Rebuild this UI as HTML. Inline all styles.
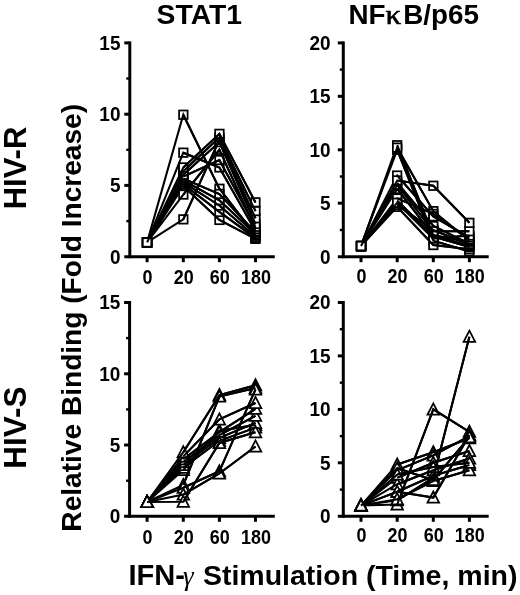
<!DOCTYPE html>
<html><head><meta charset="utf-8"><title>Figure</title>
<style>
html,body{margin:0;padding:0;background:#fff}
svg{display:block;filter:blur(0.45px)}
text{font-family:"Liberation Sans",sans-serif;font-weight:bold;fill:#000}
.tk text{font-size:19.5px}
.ti{font-size:28.3px}
.sym{font-family:"Liberation Serif",serif;font-weight:normal}
</style></head><body>
<svg width="520" height="595" viewBox="0 0 520 595">
<rect width="520" height="595" fill="#fff"/>
<g fill="#fff" stroke="#000" stroke-width="1.75" stroke-linejoin="miter">
<rect x="142.8" y="238.2" width="8.5" height="8.5"/>
<rect x="179.1" y="181.9" width="8.5" height="8.5"/>
<rect x="215.2" y="215.7" width="8.5" height="8.5"/>
<rect x="251.2" y="234.6" width="8.5" height="8.5"/>
<polyline fill="none" stroke-width="2.05" points="147.1,242.4 183.3,186.1 219.4,219.9 255.5,238.9"/>
<rect x="142.8" y="238.2" width="8.5" height="8.5"/>
<rect x="179.1" y="180.0" width="8.5" height="8.5"/>
<rect x="215.2" y="207.7" width="8.5" height="8.5"/>
<rect x="251.2" y="233.9" width="8.5" height="8.5"/>
<polyline fill="none" stroke-width="2.05" points="147.1,242.4 183.3,184.3 219.4,211.9 255.5,238.2"/>
<rect x="142.8" y="238.2" width="8.5" height="8.5"/>
<rect x="179.1" y="178.2" width="8.5" height="8.5"/>
<rect x="215.2" y="201.3" width="8.5" height="8.5"/>
<rect x="251.2" y="232.5" width="8.5" height="8.5"/>
<polyline fill="none" stroke-width="2.05" points="147.1,242.4 183.3,182.4 219.4,205.5 255.5,236.7"/>
<rect x="142.8" y="238.2" width="8.5" height="8.5"/>
<rect x="179.1" y="110.5" width="8.5" height="8.5"/>
<rect x="215.2" y="184.5" width="8.5" height="8.5"/>
<rect x="251.2" y="231.1" width="8.5" height="8.5"/>
<polyline fill="none" stroke-width="2.05" points="147.1,242.4 183.3,114.7 219.4,188.7 255.5,235.3"/>
<rect x="142.8" y="238.2" width="8.5" height="8.5"/>
<rect x="179.1" y="176.2" width="8.5" height="8.5"/>
<rect x="215.2" y="196.0" width="8.5" height="8.5"/>
<rect x="251.2" y="229.6" width="8.5" height="8.5"/>
<polyline fill="none" stroke-width="2.05" points="147.1,242.4 183.3,180.4 219.4,200.3 255.5,233.9"/>
<rect x="142.8" y="238.2" width="8.5" height="8.5"/>
<rect x="179.1" y="174.3" width="8.5" height="8.5"/>
<rect x="215.2" y="189.7" width="8.5" height="8.5"/>
<rect x="251.2" y="228.2" width="8.5" height="8.5"/>
<polyline fill="none" stroke-width="2.05" points="147.1,242.4 183.3,178.6 219.4,194.0 255.5,232.5"/>
<rect x="142.8" y="238.2" width="8.5" height="8.5"/>
<rect x="179.1" y="148.4" width="8.5" height="8.5"/>
<rect x="215.2" y="163.2" width="8.5" height="8.5"/>
<rect x="251.2" y="226.8" width="8.5" height="8.5"/>
<polyline fill="none" stroke-width="2.05" points="147.1,242.4 183.3,152.7 219.4,167.5 255.5,231.0"/>
<rect x="142.8" y="238.2" width="8.5" height="8.5"/>
<rect x="179.1" y="190.3" width="8.5" height="8.5"/>
<rect x="215.2" y="145.5" width="8.5" height="8.5"/>
<rect x="251.2" y="224.7" width="8.5" height="8.5"/>
<polyline fill="none" stroke-width="2.05" points="147.1,242.4 183.3,194.6 219.4,149.8 255.5,228.9"/>
<rect x="142.8" y="238.2" width="8.5" height="8.5"/>
<rect x="179.1" y="172.3" width="8.5" height="8.5"/>
<rect x="215.2" y="155.8" width="8.5" height="8.5"/>
<rect x="251.2" y="222.5" width="8.5" height="8.5"/>
<polyline fill="none" stroke-width="2.05" points="147.1,242.4 183.3,176.6 219.4,160.1 255.5,226.8"/>
<rect x="142.8" y="238.2" width="8.5" height="8.5"/>
<rect x="179.1" y="170.5" width="8.5" height="8.5"/>
<rect x="215.2" y="137.9" width="8.5" height="8.5"/>
<rect x="251.2" y="219.7" width="8.5" height="8.5"/>
<polyline fill="none" stroke-width="2.05" points="147.1,242.4 183.3,174.7 219.4,142.1 255.5,223.9"/>
<rect x="142.8" y="238.2" width="8.5" height="8.5"/>
<rect x="179.1" y="215.1" width="8.5" height="8.5"/>
<rect x="215.2" y="135.6" width="8.5" height="8.5"/>
<rect x="251.2" y="214.0" width="8.5" height="8.5"/>
<polyline fill="none" stroke-width="2.05" points="147.1,242.4 183.3,219.4 219.4,139.8 255.5,218.2"/>
<rect x="142.8" y="238.2" width="8.5" height="8.5"/>
<rect x="179.1" y="166.9" width="8.5" height="8.5"/>
<rect x="215.2" y="133.3" width="8.5" height="8.5"/>
<rect x="251.2" y="206.8" width="8.5" height="8.5"/>
<polyline fill="none" stroke-width="2.05" points="147.1,242.4 183.3,171.2 219.4,137.5 255.5,211.1"/>
<rect x="142.8" y="238.2" width="8.5" height="8.5"/>
<rect x="179.1" y="163.2" width="8.5" height="8.5"/>
<rect x="215.2" y="129.6" width="8.5" height="8.5"/>
<rect x="251.2" y="198.1" width="8.5" height="8.5"/>
<polyline fill="none" stroke-width="2.05" points="147.1,242.4 183.3,167.5 219.4,133.8 255.5,202.4"/>
<polyline fill="none" stroke-width="2.05" points="183.3,186.1 219.4,219.9 255.5,238.9"/>
<polyline fill="none" stroke-width="2.05" points="183.3,184.3 219.4,211.9 255.5,238.2"/>
<polyline fill="none" stroke-width="2.05" points="183.3,182.4 219.4,205.5 255.5,236.7"/>
<polyline fill="none" stroke-width="2.05" points="183.3,114.7 219.4,188.7 255.5,235.3"/>
<polyline fill="none" stroke-width="2.05" points="183.3,180.4 219.4,200.3 255.5,233.9"/>
<polyline fill="none" stroke-width="2.05" points="183.3,178.6 219.4,194.0 255.5,232.5"/>
<polyline fill="none" stroke-width="2.05" points="183.3,152.7 219.4,167.5 255.5,231.0"/>
<polyline fill="none" stroke-width="2.05" points="183.3,194.6 219.4,149.8 255.5,228.9"/>
<polyline fill="none" stroke-width="2.05" points="183.3,176.6 219.4,160.1 255.5,226.8"/>
<polyline fill="none" stroke-width="2.05" points="183.3,174.7 219.4,142.1 255.5,223.9"/>
<polyline fill="none" stroke-width="2.05" points="183.3,219.4 219.4,139.8 255.5,218.2"/>
<polyline fill="none" stroke-width="2.05" points="183.3,171.2 219.4,137.5 255.5,211.1"/>
<polyline fill="none" stroke-width="2.05" points="183.3,167.5 219.4,133.8 255.5,202.4"/>
</g>
<g stroke="#000" stroke-width="3" fill="none">
<path d="M129.8 41.39999999999998V258.2"/>
<path d="M124.30000000000001 256.7H274.8"/>
<path d="M124.30000000000001 185.4H129.8"/>
<path d="M124.30000000000001 114.2H129.8"/>
<path d="M124.30000000000001 42.9H129.8"/>
<path d="M126.30000000000001 221.1H129.8" stroke-width="2.4"/>
<path d="M126.30000000000001 149.8H129.8" stroke-width="2.4"/>
<path d="M126.30000000000001 78.5H129.8" stroke-width="2.4"/>
<path d="M147.1 256.7V262.2"/>
<path d="M183.3 256.7V262.2"/>
<path d="M219.4 256.7V262.2"/>
<path d="M255.5 256.7V262.2"/>
</g>
<g class="tk">
<text transform="translate(120.5,263.5) scale(0.95,1)" text-anchor="end" style="font-size:20px">0</text>
<text transform="translate(120.5,192.2) scale(0.95,1)" text-anchor="end" style="font-size:20px">5</text>
<text transform="translate(120.5,121.0) scale(0.95,1)" text-anchor="end" style="font-size:20px">10</text>
<text transform="translate(120.5,49.7) scale(0.95,1)" text-anchor="end" style="font-size:20px">15</text>
<text transform="translate(147.5,284.0) scale(0.93,1)" text-anchor="middle" style="font-size:19.3px">0</text>
<text transform="translate(183.7,284.0) scale(0.93,1)" text-anchor="middle" style="font-size:19.3px">20</text>
<text transform="translate(219.8,284.0) scale(0.93,1)" text-anchor="middle" style="font-size:19.3px">60</text>
<text transform="translate(255.9,284.0) scale(0.93,1)" text-anchor="middle" style="font-size:19.3px">180</text>
</g>
<g fill="#fff" stroke="#000" stroke-width="1.75" stroke-linejoin="miter">
<rect x="356.8" y="241.8" width="8.5" height="8.5"/>
<rect x="392.9" y="145.5" width="8.5" height="8.5"/>
<rect x="429.1" y="236.4" width="8.5" height="8.5"/>
<rect x="465.1" y="247.1" width="8.5" height="8.5"/>
<polyline fill="none" stroke-width="2.05" points="361.0,246.0 397.2,149.8 433.3,240.7 469.4,251.4"/>
<rect x="356.8" y="241.8" width="8.5" height="8.5"/>
<rect x="392.9" y="202.6" width="8.5" height="8.5"/>
<rect x="429.1" y="240.8" width="8.5" height="8.5"/>
<rect x="465.1" y="245.0" width="8.5" height="8.5"/>
<polyline fill="none" stroke-width="2.05" points="361.0,246.0 397.2,206.9 433.3,245.0 469.4,249.2"/>
<rect x="356.8" y="241.8" width="8.5" height="8.5"/>
<rect x="392.9" y="196.3" width="8.5" height="8.5"/>
<rect x="429.1" y="232.2" width="8.5" height="8.5"/>
<rect x="465.1" y="242.8" width="8.5" height="8.5"/>
<polyline fill="none" stroke-width="2.05" points="361.0,246.0 397.2,200.6 433.3,236.5 469.4,247.1"/>
<rect x="356.8" y="241.8" width="8.5" height="8.5"/>
<rect x="392.9" y="141.0" width="8.5" height="8.5"/>
<rect x="429.1" y="231.1" width="8.5" height="8.5"/>
<rect x="465.1" y="241.8" width="8.5" height="8.5"/>
<polyline fill="none" stroke-width="2.05" points="361.0,246.0 397.2,145.2 433.3,235.3 469.4,246.0"/>
<rect x="356.8" y="241.8" width="8.5" height="8.5"/>
<rect x="392.9" y="200.6" width="8.5" height="8.5"/>
<rect x="429.1" y="225.7" width="8.5" height="8.5"/>
<rect x="465.1" y="240.7" width="8.5" height="8.5"/>
<polyline fill="none" stroke-width="2.05" points="361.0,246.0 397.2,204.9 433.3,230.0 469.4,244.9"/>
<rect x="356.8" y="241.8" width="8.5" height="8.5"/>
<rect x="392.9" y="178.7" width="8.5" height="8.5"/>
<rect x="429.1" y="221.8" width="8.5" height="8.5"/>
<rect x="465.1" y="239.6" width="8.5" height="8.5"/>
<polyline fill="none" stroke-width="2.05" points="361.0,246.0 397.2,182.9 433.3,226.0 469.4,243.9"/>
<rect x="356.8" y="241.8" width="8.5" height="8.5"/>
<rect x="392.9" y="184.7" width="8.5" height="8.5"/>
<rect x="429.1" y="231.1" width="8.5" height="8.5"/>
<rect x="465.1" y="237.5" width="8.5" height="8.5"/>
<polyline fill="none" stroke-width="2.05" points="361.0,246.0 397.2,188.9 433.3,235.3 469.4,241.7"/>
<rect x="356.8" y="241.8" width="8.5" height="8.5"/>
<rect x="392.9" y="143.4" width="8.5" height="8.5"/>
<rect x="429.1" y="206.9" width="8.5" height="8.5"/>
<rect x="465.1" y="236.4" width="8.5" height="8.5"/>
<polyline fill="none" stroke-width="2.05" points="361.0,246.0 397.2,147.7 433.3,211.2 469.4,240.7"/>
<rect x="356.8" y="241.8" width="8.5" height="8.5"/>
<rect x="392.9" y="194.2" width="8.5" height="8.5"/>
<rect x="429.1" y="209.7" width="8.5" height="8.5"/>
<rect x="465.1" y="235.3" width="8.5" height="8.5"/>
<polyline fill="none" stroke-width="2.05" points="361.0,246.0 397.2,198.4 433.3,213.9 469.4,239.6"/>
<rect x="356.8" y="241.8" width="8.5" height="8.5"/>
<rect x="392.9" y="171.3" width="8.5" height="8.5"/>
<rect x="429.1" y="212.1" width="8.5" height="8.5"/>
<rect x="465.1" y="233.2" width="8.5" height="8.5"/>
<polyline fill="none" stroke-width="2.05" points="361.0,246.0 397.2,175.6 433.3,216.4 469.4,237.5"/>
<rect x="356.8" y="241.8" width="8.5" height="8.5"/>
<rect x="392.9" y="198.5" width="8.5" height="8.5"/>
<rect x="429.1" y="234.3" width="8.5" height="8.5"/>
<rect x="465.1" y="231.3" width="8.5" height="8.5"/>
<polyline fill="none" stroke-width="2.05" points="361.0,246.0 397.2,202.7 433.3,238.5 469.4,235.5"/>
<rect x="356.8" y="241.8" width="8.5" height="8.5"/>
<rect x="392.9" y="180.5" width="8.5" height="8.5"/>
<rect x="429.1" y="227.0" width="8.5" height="8.5"/>
<rect x="465.1" y="227.0" width="8.5" height="8.5"/>
<polyline fill="none" stroke-width="2.05" points="361.0,246.0 397.2,184.8 433.3,231.3 469.4,231.3"/>
<rect x="356.8" y="241.8" width="8.5" height="8.5"/>
<rect x="392.9" y="176.2" width="8.5" height="8.5"/>
<rect x="429.1" y="181.5" width="8.5" height="8.5"/>
<rect x="465.1" y="218.6" width="8.5" height="8.5"/>
<polyline fill="none" stroke-width="2.05" points="361.0,246.0 397.2,180.5 433.3,185.7 469.4,222.8"/>
<polyline fill="none" stroke-width="2.05" points="397.2,149.8 433.3,240.7 469.4,251.4"/>
<polyline fill="none" stroke-width="2.05" points="397.2,206.9 433.3,245.0 469.4,249.2"/>
<polyline fill="none" stroke-width="2.05" points="397.2,200.6 433.3,236.5 469.4,247.1"/>
<polyline fill="none" stroke-width="2.05" points="397.2,145.2 433.3,235.3 469.4,246.0"/>
<polyline fill="none" stroke-width="2.05" points="397.2,204.9 433.3,230.0 469.4,244.9"/>
<polyline fill="none" stroke-width="2.05" points="397.2,182.9 433.3,226.0 469.4,243.9"/>
<polyline fill="none" stroke-width="2.05" points="397.2,188.9 433.3,235.3 469.4,241.7"/>
<polyline fill="none" stroke-width="2.05" points="397.2,147.7 433.3,211.2 469.4,240.7"/>
<polyline fill="none" stroke-width="2.05" points="397.2,198.4 433.3,213.9 469.4,239.6"/>
<polyline fill="none" stroke-width="2.05" points="397.2,175.6 433.3,216.4 469.4,237.5"/>
<polyline fill="none" stroke-width="2.05" points="397.2,202.7 433.3,238.5 469.4,235.5"/>
<polyline fill="none" stroke-width="2.05" points="397.2,184.8 433.3,231.3 469.4,231.3"/>
<polyline fill="none" stroke-width="2.05" points="397.2,180.5 433.3,185.7 469.4,222.8"/>
</g>
<g stroke="#000" stroke-width="3" fill="none">
<path d="M343.3 41.39999999999998V258.2"/>
<path d="M337.8 256.7H488.7"/>
<path d="M337.8 203.2H343.3"/>
<path d="M337.8 149.8H343.3"/>
<path d="M337.8 96.3H343.3"/>
<path d="M337.8 42.9H343.3"/>
<path d="M339.8 230.0H343.3" stroke-width="2.4"/>
<path d="M339.8 176.5H343.3" stroke-width="2.4"/>
<path d="M339.8 123.1H343.3" stroke-width="2.4"/>
<path d="M339.8 69.6H343.3" stroke-width="2.4"/>
<path d="M361.0 256.7V262.2"/>
<path d="M397.2 256.7V262.2"/>
<path d="M433.3 256.7V262.2"/>
<path d="M469.4 256.7V262.2"/>
</g>
<g class="tk">
<text transform="translate(330.7,263.5) scale(0.95,1)" text-anchor="end" style="font-size:20px">0</text>
<text transform="translate(330.7,210.1) scale(0.95,1)" text-anchor="end" style="font-size:20px">5</text>
<text transform="translate(330.7,156.6) scale(0.95,1)" text-anchor="end" style="font-size:20px">10</text>
<text transform="translate(330.7,103.1) scale(0.95,1)" text-anchor="end" style="font-size:20px">15</text>
<text transform="translate(330.7,49.7) scale(0.95,1)" text-anchor="end" style="font-size:20px">20</text>
<text transform="translate(361.4,282.7) scale(0.93,1)" text-anchor="middle" style="font-size:19.3px">0</text>
<text transform="translate(397.6,282.7) scale(0.93,1)" text-anchor="middle" style="font-size:19.3px">20</text>
<text transform="translate(433.7,282.7) scale(0.93,1)" text-anchor="middle" style="font-size:19.3px">60</text>
<text transform="translate(469.8,282.7) scale(0.93,1)" text-anchor="middle" style="font-size:19.3px">180</text>
</g>
<g fill="#fff" stroke="#000" stroke-width="1.75" stroke-linejoin="miter">
<path d="M147.1 495.9L152.9 507.1L141.3 507.1Z"/>
<path d="M183.3 463.9L189.1 475.1L177.5 475.1Z"/>
<path d="M219.4 424.7L225.2 435.9L213.6 435.9Z"/>
<path d="M255.5 419.0L261.3 430.2L249.7 430.2Z"/>
<polyline fill="none" stroke-width="2.05" points="147.1,502.0 183.3,470.0 219.4,430.8 255.5,425.1"/>
<path d="M147.1 495.9L152.9 507.1L141.3 507.1Z"/>
<path d="M183.3 461.7L189.1 472.9L177.5 472.9Z"/>
<path d="M219.4 434.7L225.2 445.9L213.6 445.9Z"/>
<path d="M255.5 421.5L261.3 432.7L249.7 432.7Z"/>
<polyline fill="none" stroke-width="2.05" points="147.1,502.0 183.3,467.8 219.4,440.8 255.5,427.6"/>
<path d="M147.1 495.9L152.9 507.1L141.3 507.1Z"/>
<path d="M183.3 458.9L189.1 470.1L177.5 470.1Z"/>
<path d="M219.4 431.8L225.2 443.0L213.6 443.0Z"/>
<path d="M255.5 416.8L261.3 428.0L249.7 428.0Z"/>
<polyline fill="none" stroke-width="2.05" points="147.1,502.0 183.3,465.0 219.4,437.9 255.5,422.9"/>
<path d="M147.1 495.9L152.9 507.1L141.3 507.1Z"/>
<path d="M183.3 456.0L189.1 467.2L177.5 467.2Z"/>
<path d="M219.4 429.0L225.2 440.2L213.6 440.2Z"/>
<path d="M255.5 409.7L261.3 420.9L249.7 420.9Z"/>
<polyline fill="none" stroke-width="2.05" points="147.1,502.0 183.3,462.1 219.4,435.1 255.5,415.8"/>
<path d="M147.1 495.9L152.9 507.1L141.3 507.1Z"/>
<path d="M183.3 453.2L189.1 464.4L177.5 464.4Z"/>
<path d="M219.4 426.1L225.2 437.3L213.6 437.3Z"/>
<path d="M255.5 402.7L261.3 413.9L249.7 413.9Z"/>
<polyline fill="none" stroke-width="2.05" points="147.1,502.0 183.3,459.3 219.4,432.2 255.5,408.8"/>
<path d="M147.1 495.9L152.9 507.1L141.3 507.1Z"/>
<path d="M183.3 450.3L189.1 461.5L177.5 461.5Z"/>
<path d="M219.4 413.3L225.2 424.5L213.6 424.5Z"/>
<path d="M255.5 396.9L261.3 408.1L249.7 408.1Z"/>
<polyline fill="none" stroke-width="2.05" points="147.1,502.0 183.3,456.4 219.4,419.4 255.5,403.0"/>
<path d="M147.1 495.9L152.9 507.1L141.3 507.1Z"/>
<path d="M183.3 446.1L189.1 457.3L177.5 457.3Z"/>
<path d="M219.4 389.0L225.2 400.2L213.6 400.2Z"/>
<path d="M255.5 379.2L261.3 390.4L249.7 390.4Z"/>
<polyline fill="none" stroke-width="2.05" points="147.1,502.0 183.3,452.2 219.4,395.1 255.5,385.3"/>
<path d="M147.1 495.9L152.9 507.1L141.3 507.1Z"/>
<path d="M183.3 478.8L189.1 490.0L177.5 490.0Z"/>
<path d="M219.4 390.5L225.2 401.7L213.6 401.7Z"/>
<path d="M255.5 381.9L261.3 393.1L249.7 393.1Z"/>
<polyline fill="none" stroke-width="2.05" points="147.1,502.0 183.3,484.9 219.4,396.6 255.5,388.0"/>
<path d="M147.1 495.9L152.9 507.1L141.3 507.1Z"/>
<path d="M183.3 481.7L189.1 492.9L177.5 492.9Z"/>
<path d="M219.4 465.2L225.2 476.4L213.6 476.4Z"/>
<path d="M255.5 383.3L261.3 394.5L249.7 394.5Z"/>
<polyline fill="none" stroke-width="2.05" points="147.1,502.0 183.3,487.8 219.4,471.3 255.5,389.4"/>
<path d="M147.1 495.9L152.9 507.1L141.3 507.1Z"/>
<path d="M183.3 488.5L189.1 499.7L177.5 499.7Z"/>
<path d="M219.4 467.4L225.2 478.6L213.6 478.6Z"/>
<path d="M255.5 440.4L261.3 451.6L249.7 451.6Z"/>
<polyline fill="none" stroke-width="2.05" points="147.1,502.0 183.3,494.6 219.4,473.5 255.5,446.5"/>
<path d="M147.1 495.9L152.9 507.1L141.3 507.1Z"/>
<path d="M183.3 495.7L189.1 506.9L177.5 506.9Z"/>
<path d="M219.4 436.8L225.2 448.0L213.6 448.0Z"/>
<path d="M255.5 426.2L261.3 437.4L249.7 437.4Z"/>
<polyline fill="none" stroke-width="2.05" points="147.1,502.0 183.3,501.8 219.4,442.9 255.5,432.3"/>
<polyline fill="none" stroke-width="2.05" points="183.3,470.0 219.4,430.8 255.5,425.1"/>
<polyline fill="none" stroke-width="2.05" points="183.3,467.8 219.4,440.8 255.5,427.6"/>
<polyline fill="none" stroke-width="2.05" points="183.3,465.0 219.4,437.9 255.5,422.9"/>
<polyline fill="none" stroke-width="2.05" points="183.3,462.1 219.4,435.1 255.5,415.8"/>
<polyline fill="none" stroke-width="2.05" points="183.3,459.3 219.4,432.2 255.5,408.8"/>
<polyline fill="none" stroke-width="2.05" points="183.3,456.4 219.4,419.4 255.5,403.0"/>
<polyline fill="none" stroke-width="2.05" points="183.3,452.2 219.4,395.1 255.5,385.3"/>
<polyline fill="none" stroke-width="2.05" points="183.3,484.9 219.4,396.6 255.5,388.0"/>
<polyline fill="none" stroke-width="2.05" points="183.3,487.8 219.4,471.3 255.5,389.4"/>
<polyline fill="none" stroke-width="2.05" points="183.3,494.6 219.4,473.5 255.5,446.5"/>
<polyline fill="none" stroke-width="2.05" points="183.3,501.8 219.4,442.9 255.5,432.3"/>
</g>
<g stroke="#000" stroke-width="3" fill="none">
<path d="M129.6 300.99999999999994V517.8"/>
<path d="M124.1 516.3H274.8"/>
<path d="M124.1 445.0H129.6"/>
<path d="M124.1 373.8H129.6"/>
<path d="M124.1 302.5H129.6"/>
<path d="M126.1 480.7H129.6" stroke-width="2.4"/>
<path d="M126.1 409.4H129.6" stroke-width="2.4"/>
<path d="M126.1 338.1H129.6" stroke-width="2.4"/>
<path d="M147.1 516.3V521.8"/>
<path d="M183.3 516.3V521.8"/>
<path d="M219.4 516.3V521.8"/>
<path d="M255.5 516.3V521.8"/>
</g>
<g class="tk">
<text transform="translate(120.3,523.1) scale(0.95,1)" text-anchor="end" style="font-size:20px">0</text>
<text transform="translate(120.3,451.8) scale(0.95,1)" text-anchor="end" style="font-size:20px">5</text>
<text transform="translate(120.3,380.6) scale(0.95,1)" text-anchor="end" style="font-size:20px">10</text>
<text transform="translate(120.3,309.3) scale(0.95,1)" text-anchor="end" style="font-size:20px">15</text>
<text transform="translate(147.5,543.6) scale(0.93,1)" text-anchor="middle" style="font-size:19.3px">0</text>
<text transform="translate(183.7,543.6) scale(0.93,1)" text-anchor="middle" style="font-size:19.3px">20</text>
<text transform="translate(219.8,543.6) scale(0.93,1)" text-anchor="middle" style="font-size:19.3px">60</text>
<text transform="translate(255.9,543.6) scale(0.93,1)" text-anchor="middle" style="font-size:19.3px">180</text>
</g>
<g fill="#fff" stroke="#000" stroke-width="1.75" stroke-linejoin="miter">
<path d="M361.0 499.5L366.8 510.7L355.2 510.7Z"/>
<path d="M397.2 498.4L403.0 509.6L391.4 509.6Z"/>
<path d="M433.3 403.3L439.1 414.5L427.5 414.5Z"/>
<path d="M469.4 425.7L475.2 436.9L463.6 436.9Z"/>
<polyline fill="none" stroke-width="2.05" points="361.0,505.6 397.2,504.5 433.3,409.4 469.4,431.8"/>
<path d="M361.0 499.5L366.8 510.7L355.2 510.7Z"/>
<path d="M397.2 494.2L403.0 505.4L391.4 505.4Z"/>
<path d="M433.3 471.7L439.1 482.9L427.5 482.9Z"/>
<path d="M469.4 330.6L475.2 341.8L463.6 341.8Z"/>
<polyline fill="none" stroke-width="2.05" points="361.0,505.6 397.2,500.3 433.3,477.8 469.4,336.7"/>
<path d="M361.0 499.5L366.8 510.7L355.2 510.7Z"/>
<path d="M397.2 485.6L403.0 496.8L391.4 496.8Z"/>
<path d="M433.3 491.5L439.1 502.7L427.5 502.7Z"/>
<path d="M469.4 429.0L475.2 440.2L463.6 440.2Z"/>
<polyline fill="none" stroke-width="2.05" points="361.0,505.6 397.2,491.7 433.3,497.6 469.4,435.1"/>
<path d="M361.0 499.5L366.8 510.7L355.2 510.7Z"/>
<path d="M397.2 458.4L403.0 469.6L391.4 469.6Z"/>
<path d="M433.3 446.1L439.1 457.3L427.5 457.3Z"/>
<path d="M469.4 432.2L475.2 443.4L463.6 443.4Z"/>
<polyline fill="none" stroke-width="2.05" points="361.0,505.6 397.2,464.5 433.3,452.2 469.4,438.3"/>
<path d="M361.0 499.5L366.8 510.7L355.2 510.7Z"/>
<path d="M397.2 464.2L403.0 475.4L391.4 475.4Z"/>
<path d="M433.3 449.3L439.1 460.5L427.5 460.5Z"/>
<path d="M469.4 430.0L475.2 441.2L463.6 441.2Z"/>
<polyline fill="none" stroke-width="2.05" points="361.0,505.6 397.2,470.3 433.3,455.4 469.4,436.1"/>
<path d="M361.0 499.5L366.8 510.7L355.2 510.7Z"/>
<path d="M397.2 471.7L403.0 482.9L391.4 482.9Z"/>
<path d="M433.3 456.7L439.1 467.9L427.5 467.9Z"/>
<path d="M469.4 445.0L475.2 456.2L463.6 456.2Z"/>
<polyline fill="none" stroke-width="2.05" points="361.0,505.6 397.2,477.8 433.3,462.8 469.4,451.1"/>
<path d="M361.0 499.5L366.8 510.7L355.2 510.7Z"/>
<path d="M397.2 478.1L403.0 489.3L391.4 489.3Z"/>
<path d="M433.3 464.2L439.1 475.4L427.5 475.4Z"/>
<path d="M469.4 452.5L475.2 463.7L463.6 463.7Z"/>
<polyline fill="none" stroke-width="2.05" points="361.0,505.6 397.2,484.2 433.3,470.3 469.4,458.6"/>
<path d="M361.0 499.5L366.8 510.7L355.2 510.7Z"/>
<path d="M397.2 485.6L403.0 496.8L391.4 496.8Z"/>
<path d="M433.3 469.6L439.1 480.8L427.5 480.8Z"/>
<path d="M469.4 458.9L475.2 470.1L463.6 470.1Z"/>
<polyline fill="none" stroke-width="2.05" points="361.0,505.6 397.2,491.7 433.3,475.7 469.4,465.0"/>
<path d="M361.0 499.5L366.8 510.7L355.2 510.7Z"/>
<path d="M397.2 493.1L403.0 504.3L391.4 504.3Z"/>
<path d="M433.3 474.9L439.1 486.1L427.5 486.1Z"/>
<path d="M469.4 464.2L475.2 475.4L463.6 475.4Z"/>
<polyline fill="none" stroke-width="2.05" points="361.0,505.6 397.2,499.2 433.3,481.0 469.4,470.3"/>
<path d="M361.0 499.5L366.8 510.7L355.2 510.7Z"/>
<path d="M397.2 462.1L403.0 473.3L391.4 473.3Z"/>
<path d="M433.3 473.9L439.1 485.1L427.5 485.1Z"/>
<path d="M469.4 431.1L475.2 442.3L463.6 442.3Z"/>
<polyline fill="none" stroke-width="2.05" points="361.0,505.6 397.2,468.2 433.3,480.0 469.4,437.2"/>
<path d="M361.0 499.5L366.8 510.7L355.2 510.7Z"/>
<path d="M397.2 468.5L403.0 479.7L391.4 479.7Z"/>
<path d="M433.3 461.0L439.1 472.2L427.5 472.2Z"/>
<path d="M469.4 456.7L475.2 467.9L463.6 467.9Z"/>
<polyline fill="none" stroke-width="2.05" points="361.0,505.6 397.2,474.6 433.3,467.1 469.4,462.8"/>
<polyline fill="none" stroke-width="2.05" points="397.2,504.5 433.3,409.4 469.4,431.8"/>
<polyline fill="none" stroke-width="2.05" points="397.2,500.3 433.3,477.8 469.4,336.7"/>
<polyline fill="none" stroke-width="2.05" points="397.2,491.7 433.3,497.6 469.4,435.1"/>
<polyline fill="none" stroke-width="2.05" points="397.2,464.5 433.3,452.2 469.4,438.3"/>
<polyline fill="none" stroke-width="2.05" points="397.2,470.3 433.3,455.4 469.4,436.1"/>
<polyline fill="none" stroke-width="2.05" points="397.2,477.8 433.3,462.8 469.4,451.1"/>
<polyline fill="none" stroke-width="2.05" points="397.2,484.2 433.3,470.3 469.4,458.6"/>
<polyline fill="none" stroke-width="2.05" points="397.2,491.7 433.3,475.7 469.4,465.0"/>
<polyline fill="none" stroke-width="2.05" points="397.2,499.2 433.3,481.0 469.4,470.3"/>
<polyline fill="none" stroke-width="2.05" points="397.2,468.2 433.3,480.0 469.4,437.2"/>
<polyline fill="none" stroke-width="2.05" points="397.2,474.6 433.3,467.1 469.4,462.8"/>
</g>
<g stroke="#000" stroke-width="3" fill="none">
<path d="M343.3 300.99999999999994V517.8"/>
<path d="M337.8 516.3H488.7"/>
<path d="M337.8 462.8H343.3"/>
<path d="M337.8 409.4H343.3"/>
<path d="M337.8 355.9H343.3"/>
<path d="M337.8 302.5H343.3"/>
<path d="M339.8 489.6H343.3" stroke-width="2.4"/>
<path d="M339.8 436.1H343.3" stroke-width="2.4"/>
<path d="M339.8 382.7H343.3" stroke-width="2.4"/>
<path d="M339.8 329.2H343.3" stroke-width="2.4"/>
<path d="M361.0 516.3V521.8"/>
<path d="M397.2 516.3V521.8"/>
<path d="M433.3 516.3V521.8"/>
<path d="M469.4 516.3V521.8"/>
</g>
<g class="tk">
<text transform="translate(330.7,523.1) scale(0.95,1)" text-anchor="end" style="font-size:20px">0</text>
<text transform="translate(330.7,469.6) scale(0.95,1)" text-anchor="end" style="font-size:20px">5</text>
<text transform="translate(330.7,416.2) scale(0.95,1)" text-anchor="end" style="font-size:20px">10</text>
<text transform="translate(330.7,362.7) scale(0.95,1)" text-anchor="end" style="font-size:20px">15</text>
<text transform="translate(330.7,309.3) scale(0.95,1)" text-anchor="end" style="font-size:20px">20</text>
<text transform="translate(361.4,542.3) scale(0.93,1)" text-anchor="middle" style="font-size:19.3px">0</text>
<text transform="translate(397.6,542.3) scale(0.93,1)" text-anchor="middle" style="font-size:19.3px">20</text>
<text transform="translate(433.7,542.3) scale(0.93,1)" text-anchor="middle" style="font-size:19.3px">60</text>
<text transform="translate(469.8,542.3) scale(0.93,1)" text-anchor="middle" style="font-size:19.3px">180</text>
</g>
<text class="ti" x="199.3" y="24.2" text-anchor="middle">STAT1</text>
<text x="348.4" y="24.4" style="font-size:27.8px">NF</text>
<text class="sym" transform="translate(385.4,24.4) scale(1.15,1)" style="font-size:27px;stroke:#000;stroke-width:0.6px">κ</text>
<text x="403.3" y="24.4" style="font-size:27.8px">B/p65</text>
<text x="0" y="0" transform="translate(26,168) rotate(-90)" text-anchor="middle" style="font-size:31px">HIV-R</text>
<text x="0" y="0" transform="translate(26,427.7) rotate(-90)" text-anchor="middle" style="font-size:31.5px">HIV-S</text>
<text x="0" y="0" transform="translate(81.2,317.8) rotate(-90)" text-anchor="middle" style="font-size:28.1px">Relative Binding (Fold Increase)</text>
<text x="128.5" y="585" style="font-size:29.1px">IFN-</text>
<text class="sym" x="183" y="585" style="font-size:27px;font-style:italic">γ</text>
<text x="202.9" y="585" style="font-size:28.5px">Stimulation (Time, min)</text>
</svg>
</body></html>
